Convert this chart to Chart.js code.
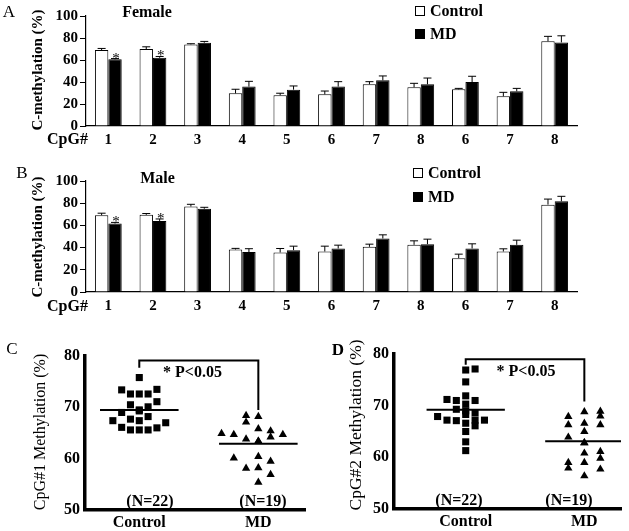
<!DOCTYPE html>
<html>
<head>
<meta charset="utf-8">
<script src="https://cdn.jsdelivr.net/npm/chart.js@4.4.1/dist/chart.umd.min.js"></script>
<style>
  html, body { margin: 0; padding: 0; background: #fff; }
  #wrap { position: relative; width: 629px; height: 531px; overflow: hidden; }
  canvas { position: absolute; }
</style>
</head>
<body>
<div id="wrap">
  <canvas id="chartA" width="629" height="165" style="left:0;top:0"></canvas>
  <canvas id="chartB" width="629" height="165" style="left:0;top:165px"></canvas>
  <canvas id="chartC" width="315" height="201" style="left:0;top:330px"></canvas>
  <canvas id="chartD" width="314" height="201" style="left:315px;top:330px"></canvas>
</div>
<script>
// ---- data ----
const cpgLabels = ['1', '2', '3', '4', '5', '6', '7', '8', '6', '7', '8'];

const femaleControl    = [69, 70, 74.2, 29.7, 27.9, 28.8, 37.9, 35.2, 33.3, 27, 77];
const femaleControlErr = [1.5, 2, 0.6, 3.7, 1.9, 3, 2.4, 3.6, 0.9, 3.6, 4.5];
const femaleMD         = [60.6, 62, 75.7, 35.8, 33, 35.8, 41.5, 37.9, 40, 31.5, 76];
const femaleMDErr      = [0.7, 1.2, 1.2, 4.8, 3.4, 4.5, 4, 5.7, 5.2, 2.7, 6];
const femaleSig        = [1, 1, 0, 0, 0, 0, 0, 0, 0, 0, 0];

const maleControl      = [69.2, 69.5, 77, 38.3, 35.6, 36.5, 40.7, 42.5, 30.5, 36.5, 78.7];
const maleControlErr   = [1.8, 1.2, 2, 1, 3.6, 4.8, 2.4, 3.6, 3.6, 2.4, 5];
const maleMD           = [61.7, 64, 75, 36, 37.7, 39.2, 48.2, 43.1, 39.2, 42.5, 81.7];
const maleMDErr        = [1, 1.8, 1.3, 3, 3.6, 3, 3.3, 4.5, 4.2, 4.2, 4.5];
const maleSig          = [1, 1, 0, 0, 0, 0, 0, 0, 0, 0, 0];

const groupNames = ['Control', 'MD'];

// CpG#1 individual values, with the swarm column each dot sits in
const cpg1Control    = [75.8, 73.4, 72.6, 72.6, 72.6, 73.5, 71.1, 70.5, 70.1, 69.0, 69.5, 67.4, 67.7, 67.4, 68.2, 67.0, 66.1, 65.6, 65.6, 65.6, 66.0, 69.3];
const cpg1ControlCol = [0, -2, -1, 0, 1, 2, 2, -1, 1, -2, 0, -3, -1, 0, 1, 3, -2, -1, 0, 1, 2, 0];
const cpg1MD         = [68.4, 68.2, 67.1, 65.8, 65.4, 64.9, 64.7, 64.7, 64.2, 63.8, 63.4, 60.1, 60.4, 59.5, 58.1, 58.2, 56.9, 55.4, 63.4];
const cpg1MDCol      = [-1, 0, -1, 0, 1, -3, -2, 2, 1, -1, 0, -2, 0, 1, -1, 0, 1, 0, 0];
const cpg1Means      = [69.5, 62.9];
const cpg1Bracket    = [77.7, 79.1, 79.1, 69.5];

// CpG#2
const cpg2Control    = [76.9, 77.1, 74.6, 71.9, 71.2, 71.0, 71.0, 70.3, 69.3, 68.6, 67.9, 67.2, 67.1, 68.3, 67.2, 66.1, 67.2, 66.6, 65.0, 63.0, 61.3, 69.0];
const cpg2ControlCol = [0, 1, 0, 0, -2, -1, 1, 0, -1, 1, -3, -2, -1, 0, 1, 1, 2, 0, 0, 0, 0, 0];
const cpg2MD         = [67.9, 68.8, 68.9, 68.0, 66.3, 66.6, 66.3, 65.0, 63.9, 62.8, 60.8, 61.1, 59.8, 59.0, 59.0, 57.9, 57.7, 56.4, 62.8];
const cpg2MDCol      = [-1, 0, 1, 1, -1, 0, 1, 0, -1, 0, 0, 1, 1, 0, -1, -1, 1, 0, 0];
const cpg2Means      = [69.2, 63.1];
const cpg2Bracket    = [77.9, 79.0, 79.0, 70.8];

const serif = '"Liberation Serif", "Times New Roman", serif';
Chart.defaults.font.family = serif;
Chart.defaults.color = '#000';

// error bars (upward only) + significance stars for the bar panels
const errorBars = {
  id: 'errorBars',
  afterDatasetsDraw(chart) {
    const ctx = chart.ctx;
    const y = chart.scales.y;
    chart.data.datasets.forEach((ds, i) => {
      if (!ds.errors) return;
      chart.getDatasetMeta(i).data.forEach((bar, j) => {
        const top = y.getPixelForValue(ds.data[j] + ds.errors[j]);
        ctx.save();
        ctx.strokeStyle = '#000';
        ctx.lineWidth = 1;
        ctx.beginPath();
        ctx.moveTo(bar.x, bar.y);
        ctx.lineTo(bar.x, top);
        ctx.moveTo(bar.x - 4, top);
        ctx.lineTo(bar.x + 4, top);
        ctx.stroke();
        if (ds.stars && ds.stars[j]) {
          ctx.fillStyle = '#000';
          ctx.font = '15px ' + serif;
          ctx.textAlign = 'center';
          ctx.textBaseline = 'alphabetic';
          ctx.fillText('*', bar.x + 1, top + 4);
        }
        ctx.restore();
      });
    });
  }
};

// free text and legend boxes
const panelText = {
  id: 'panelText',
  afterDraw(chart, args, opts) {
    const ctx = chart.ctx;
    (opts.items || []).forEach(t => {
      ctx.save();
      ctx.fillStyle = '#000';
      ctx.font = t.font;
      ctx.textAlign = t.align || 'center';
      ctx.textBaseline = 'middle';
      ctx.translate(t.x, t.y);
      if (t.rotate) ctx.rotate(t.rotate);
      ctx.fillText(t.text, 0, 0);
      ctx.restore();
    });
    (opts.legend || []).forEach(l => {
      const ds = chart.data.datasets[l.dataset];
      ctx.save();
      ctx.fillStyle = ds.backgroundColor;
      ctx.strokeStyle = '#000';
      ctx.lineWidth = 1;
      ctx.fillRect(l.x, l.y, 10, 10);
      ctx.strokeRect(l.x + 0.5, l.y + 0.5, 9, 9);
      ctx.fillStyle = '#000';
      ctx.font = 'bold 16px ' + serif;
      ctx.textAlign = 'left';
      ctx.textBaseline = 'middle';
      ctx.fillText(ds.label, l.x + 15, l.y + 6);
      ctx.restore();
    });
  }
};

function barChart(id, ctrl, ctrlErr, md, mdErr, sig, g) {
  return new Chart(document.getElementById(id), {
    type: 'bar',
    data: {
      labels: cpgLabels,
      datasets: [
        { label: 'Control', data: ctrl, errors: ctrlErr, backgroundColor: '#fff', borderColor: '#000', borderWidth: 1 },
        { label: 'MD', data: md, errors: mdErr, stars: sig, backgroundColor: '#000', borderColor: '#000', borderWidth: 1 }
      ]
    },
    options: {
      responsive: false,
      animation: false,
      layout: { padding: { top: g.top, right: 52, left: 0, bottom: 0 } },
      categoryPercentage: 0.6,
      barPercentage: 1.0,
      plugins: {
        legend: { display: false },
        tooltip: { enabled: false },
        panelText: { items: g.texts, legend: g.legend }
      },
      scales: {
        x: {
          grid: { display: false, drawTicks: false },
          border: { display: true, color: '#000', width: 1.2 },
          ticks: { font: { size: 15, weight: 'bold' }, color: '#000', padding: 5, maxRotation: 0, autoSkip: false },
          afterFit(s) { s.height = g.xHeight; }
        },
        y: {
          min: 0, max: 100,
          ticks: { stepSize: 20, font: { size: 15, weight: 'bold' }, color: '#000', padding: 2 },
          grid: { drawOnChartArea: false, drawTicks: true, tickLength: 6, color: '#000' },
          border: { display: true, color: '#000', width: 1.2 },
          afterFit(s) { s.width = 86; }
        }
      }
    },
    plugins: [errorBars, panelText]
  });
}

function dotPlot(id, ctrl, ctrlCol, md, mdCol, means, bracket, g) {
  const half = 0.33;
  return new Chart(document.getElementById(id), {
    type: 'scatter',
    data: {
      datasets: [
        {
          label: 'Control',
          data: ctrl.map((v, i) => ({ x: 1 + ctrlCol[i] * g.ctrlStep, y: v })),
          pointStyle: 'rect', radius: 5, backgroundColor: '#000', borderWidth: 0
        },
        {
          label: 'MD',
          data: md.map((v, i) => ({ x: 2 + mdCol[i] * g.mdStep, y: v })),
          pointStyle: 'triangle', radius: 4.8, backgroundColor: '#000', borderWidth: 0
        },
        {
          label: 'mean Control',
          data: [{ x: 1 - half, y: means[0] }, { x: 1 + half, y: means[0] }],
          showLine: true, pointRadius: 0, borderColor: '#000', borderWidth: 2
        },
        {
          label: 'mean MD',
          data: [{ x: 2 - half, y: means[1] }, { x: 2 + half, y: means[1] }],
          showLine: true, pointRadius: 0, borderColor: '#000', borderWidth: 2
        },
        {
          label: 'bracket',
          data: [{ x: 1, y: bracket[0] }, { x: 1, y: bracket[1] }, { x: 2, y: bracket[2] }, { x: 2, y: bracket[3] }],
          showLine: true, pointRadius: 0, borderColor: '#000', borderWidth: 2
        }
      ]
    },
    options: {
      responsive: false,
      animation: false,
      layout: { padding: { top: g.top, right: g.right, left: 0, bottom: 0 } },
      plugins: {
        legend: { display: false },
        tooltip: { enabled: false },
        panelText: { items: g.texts }
      },
      scales: {
        x: {
          type: 'linear', min: g.xMin, max: g.xMax,
          afterBuildTicks(s) { s.ticks = [{ value: 1 }, { value: 2 }]; },
          ticks: {
            callback: v => groupNames[v - 1],
            font: { size: 16, weight: 'bold' }, color: '#000', padding: 3, maxRotation: 0, autoSkip: false
          },
          grid: { display: false, drawTicks: false },
          border: { display: true, color: '#000', width: 3.5 },
          afterFit(s) { s.height = g.xHeight; }
        },
        y: {
          min: 50, max: 80,
          ticks: { stepSize: 10, font: { size: 16, weight: 'bold' }, color: '#000', padding: 5 },
          grid: { display: false, drawTicks: false },
          border: { display: true, color: '#000', width: 3.5 },
          afterFit(s) { s.width = g.yWidth; }
        }
      }
    },
    plugins: [panelText]
  });
}

barChart('chartA', femaleControl, femaleControlErr, femaleMD, femaleMDErr, femaleSig, {
  top: 16, xHeight: 39,
  texts: [
    { text: 'A', x: 9, y: 13, font: '17px ' + serif },
    { text: 'Female', x: 147, y: 13, font: 'bold 16px ' + serif },
    { text: 'C-methylation (%)', x: 38, y: 70, rotate: -Math.PI / 2, font: 'bold 15px ' + serif },
    { text: 'CpG#', x: 67.5, y: 140, font: 'bold 16px ' + serif }
  ],
  legend: [{ dataset: 0, x: 415, y: 6 }, { dataset: 1, x: 415, y: 29 }]
});

barChart('chartB', maleControl, maleControlErr, maleMD, maleMDErr, maleSig, {
  top: 16, xHeight: 38,
  texts: [
    { text: 'B', x: 22, y: 9, font: '17px ' + serif },
    { text: 'Male', x: 157.5, y: 14, font: 'bold 16px ' + serif },
    { text: 'C-methylation (%)', x: 38, y: 72, rotate: -Math.PI / 2, font: 'bold 15px ' + serif },
    { text: 'CpG#', x: 67.5, y: 142, font: 'bold 16px ' + serif }
  ],
  legend: [{ dataset: 0, x: 413, y: 3 }, { dataset: 1, x: 413, y: 27 }]
});

dotPlot('chartC', cpg1Control, cpg1ControlCol, cpg1MD, cpg1MDCol, cpg1Means, cpg1Bracket, {
  top: 26, right: 10, xHeight: 21, yWidth: 85,
  xMin: 0.544, xMax: 2.392, ctrlStep: 0.074, mdStep: 0.103,
  texts: [
    { text: 'C', x: 12, y: 20, font: '17px ' + serif },
    { text: 'CpG#1 Methylation (%)', x: 41, y: 102, rotate: -Math.PI / 2, font: '16px ' + serif },
    { text: '* P<0.05', x: 192.5, y: 43, font: 'bold 16px ' + serif },
    { text: '(N=22)', x: 150, y: 172, font: 'bold 16px ' + serif },
    { text: '(N=19)', x: 263, y: 172, font: 'bold 16px ' + serif }
  ]
});

dotPlot('chartD', cpg2Control, cpg2ControlCol, cpg2MD, cpg2MDCol, cpg2Means, cpg2Bracket, {
  top: 24, right: 8, xHeight: 22, yWidth: 79,
  xMin: 0.3955, xMax: 2.309, ctrlStep: 0.079, mdStep: 0.135,
  texts: [
    { text: 'D', x: 23, y: 21, font: 'bold 17px ' + serif },
    { text: 'CpG#2 Methylation (%)', x: 41, y: 95, rotate: -Math.PI / 2, font: '17.5px ' + serif },
    { text: '* P<0.05', x: 211, y: 42, font: 'bold 16px ' + serif },
    { text: '(N=22)', x: 144, y: 171, font: 'bold 16px ' + serif },
    { text: '(N=19)', x: 254, y: 171, font: 'bold 16px ' + serif }
  ]
});
</script>
</body>
</html>
